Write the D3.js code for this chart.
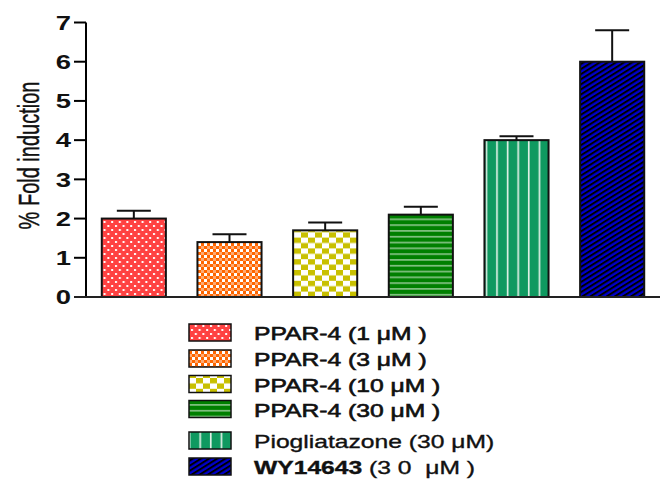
<!DOCTYPE html>
<html>
<head>
<meta charset="utf-8">
<script src="https://cdn.jsdelivr.net/npm/d3@7"></script>
<style>
  body { margin: 0; background: #fff; }
  text { font-family: "Liberation Sans", Arial, sans-serif; white-space: pre; }
</style>
</head>
<body>
<svg id="chart" width="666" height="480"></svg>
<script>
const groups = ['PPAR-4 (1 μM )', 'PPAR-4 (3 μM )', 'PPAR-4 (10 μM )', 'PPAR-4 (30 μM )', 'Piogliatazone (30 μM)', 'WY14643']
const means = [2.0, 1.4, 1.7, 2.1, 4.0, 6.0]
const errors = [0.2, 0.2, 0.2, 0.2, 0.1, 0.8]
const yTicks = [0, 1, 2, 3, 4, 5, 6, 7]
const colors = ['#ff4242', '#ff6600', '#c8c000', '#008000', '#0f9960', '#0000cc']

const sx = 1.37 // the picture is stretched sideways
const svg = d3.select('#chart')
const defs = svg.append('defs')

const x = d3.scaleBand().domain(d3.range(groups.length)).range([86, 660]).paddingInner(0.33).paddingOuter(0.165)
const y = d3.scaleLinear().domain([0, 7]).range([297, 22.5])

// patterns
function pattern (id, w, h) {
  return defs.append('pattern').attr('id', id).attr('patternUnits', 'userSpaceOnUse')
    .attr('width', w).attr('height', h)
}
// dots
let p = pattern('pat-0', 7.6, 8)
p.append('rect').attr('width', 7.6).attr('height', 8).attr('fill', colors[0])
p.append('rect').attr('x', 1).attr('y', 1).attr('width', 2).attr('height', 2).attr('fill', '#fff')
p.append('rect').attr('x', 4.8).attr('y', 5).attr('width', 2).attr('height', 2).attr('fill', '#fff')
// small checker
p = pattern('pat-1', 6, 6)
p.append('rect').attr('width', 6).attr('height', 6).attr('fill', '#fff')
p.append('rect').attr('width', 3).attr('height', 3).attr('fill', colors[1])
p.append('rect').attr('x', 3).attr('y', 3).attr('width', 3).attr('height', 3).attr('fill', colors[1])
p.append('rect').attr('x', 3).attr('width', 3).attr('height', 3).attr('fill', colors[1]).attr('opacity', 0.55)
// big checker
p = pattern('pat-2', 14, 10.8)
p.append('rect').attr('width', 14).attr('height', 10.8).attr('fill', '#fff')
p.append('rect').attr('width', 7).attr('height', 5.4).attr('fill', colors[2])
p.append('rect').attr('x', 7).attr('y', 5.4).attr('width', 7).attr('height', 5.4).attr('fill', colors[2])
// horizontal stripes
p = pattern('pat-3', 10, 5.8)
p.append('rect').attr('width', 10).attr('height', 5.8).attr('fill', colors[3])
p.append('rect').attr('y', 4.2).attr('width', 10).attr('height', 1.1).attr('fill', '#c8e4c8')
// vertical lines
p = pattern('pat-4', 10.6, 10)
p.append('rect').attr('width', 10.6).attr('height', 10).attr('fill', colors[4])
p.append('rect').attr('x', 8.6).attr('width', 1.6).attr('height', 10).attr('fill', '#e8f4ec')
// diagonal hatch
p = pattern('pat-5', 10, 4.3).attr('patternTransform', 'rotate(-32)')
p.append('rect').attr('width', 10).attr('height', 4.3).attr('fill', colors[5])
p.append('rect').attr('width', 10).attr('height', 2).attr('fill', '#000')

// y axis
const yAxis = svg.append('g')
yAxis.append('line').attr('x1', 86).attr('x2', 86).attr('y1', y(7)).attr('y2', y(0))
  .attr('stroke', '#000').attr('stroke-width', 2)
yAxis.selectAll('.tick').data(yTicks).join('line')
  .attr('x1', 74).attr('x2', 86).attr('y1', d => y(d)).attr('y2', d => y(d))
  .attr('stroke', '#000').attr('stroke-width', 2)
yAxis.selectAll('.lab').data(yTicks).join('text')
  .attr('transform', d => `translate(71,${y(d)}) scale(${sx},1)`)
  .attr('text-anchor', 'end').attr('dy', '0.36em')
  .attr('font-size', 20).attr('font-weight', 'bold').attr('fill', '#111')
  .text(d => d)

svg.append('text')
  .attr('transform', `translate(39,155.5) scale(${sx + 0.08},1) rotate(-90)`)
  .attr('text-anchor', 'middle').attr('font-size', 20).attr('fill', '#111')
  .attr('stroke', '#111').attr('stroke-width', 0.3)
  .text('% Fold induction')

// bars
const bars = svg.append('g')
bars.selectAll('rect').data(means).join('rect')
  .attr('x', (d, i) => x(i)).attr('width', x.bandwidth())
  .attr('y', d => y(d)).attr('height', d => y(0) - y(d))
  .attr('fill', (d, i) => `url(#pat-${i})`)
  .attr('stroke', '#111').attr('stroke-width', 2)

// error bars
const err = svg.append('g').attr('stroke', '#111').attr('stroke-width', 2)
means.forEach((m, i) => {
  const cx = x(i) + x.bandwidth() / 2
  err.append('line').attr('x1', cx).attr('x2', cx).attr('y1', y(m)).attr('y2', y(m + errors[i]))
  err.append('line').attr('x1', cx - 17).attr('x2', cx + 17).attr('y1', y(m + errors[i])).attr('y2', y(m + errors[i]))
})

// baseline
svg.append('line').attr('x1', 74).attr('x2', 660).attr('y1', y(0)).attr('y2', y(0))
  .attr('stroke', '#222').attr('stroke-width', 2)

// legend
const legendY = [340, 366, 391.5, 416.5, 448, 474]
const legend = svg.append('g')
groups.forEach((g, i) => {
  legend.append('rect').attr('x', 189).attr('y', legendY[i] - 16).attr('width', 42).attr('height', 17)
    .attr('fill', `url(#pat-${i})`).attr('stroke', '#111').attr('stroke-width', 1.5)
  const t = legend.append('text')
    .attr('transform', `translate(254,${legendY[i]}) scale(${sx},1)`)
    .attr('font-size', 18).attr('fill', '#111')
    .attr('stroke', '#111').attr('stroke-width', i < 4 ? 0.6 : 0.35)
  if (i === 5) {
    t.append('tspan').attr('font-weight', 'bold').text(g)
    t.append('tspan').text(' (3 0  μM )')
  } else {
    t.text(g)
  }
})
</script>
</body>
</html>
